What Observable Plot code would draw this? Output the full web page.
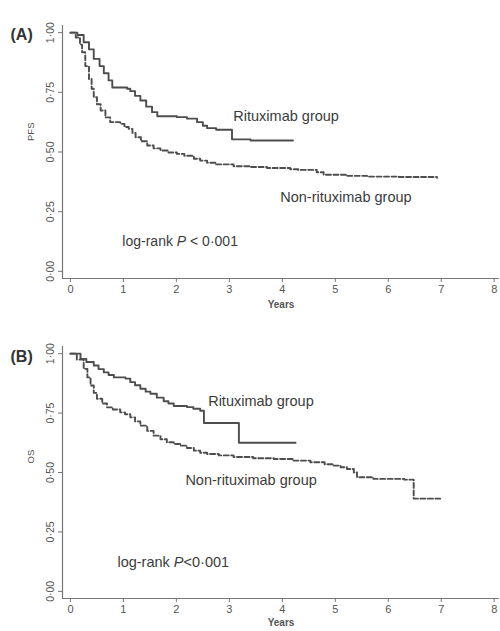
<!DOCTYPE html>
<html><head><meta charset="utf-8">
<script src="https://cdn.jsdelivr.net/npm/d3@7"></script>
<script src="https://cdn.jsdelivr.net/npm/@observablehq/plot@0.6"></script>
<style>
body{margin:0;background:#fff;}
#chart{width:500px;height:631px;position:relative;font-family:"Liberation Sans",Arial,sans-serif;background:#fff;}
#chart svg{display:block;}
</style></head><body><div id="chart"></div>
<script>
// ---- data ----
const years = [0,1,2,3,4,5,6,7,8];
const survTicks = [0,0.25,0.5,0.75,1];
const groupNames = ["Rituximab group","Non-rituximab group"];

// (A) PFS
const pfsRitT = [0,0.13,0.25,0.35,0.44,0.55,0.63,0.72,0.79,1.07,1.13,1.22,1.32,1.43,1.54,1.64,2.01,2.2,2.39,2.5,2.58,2.75,3.05,3.4,4.2];
const pfsRitS = [1.0,0.99,0.96,0.93,0.89,0.86,0.83,0.80,0.77,0.765,0.755,0.735,0.716,0.69,0.667,0.65,0.646,0.64,0.625,0.61,0.60,0.593,0.553,0.548,0.548];
const pfsNonT = [0,0.1,0.18,0.22,0.28,0.35,0.40,0.44,0.50,0.57,0.66,0.75,0.94,1.02,1.10,1.17,1.23,1.33,1.45,1.57,1.70,1.85,2.01,2.15,2.33,2.45,2.58,2.75,3.08,3.4,3.71,4.15,4.3,4.65,4.78,5.2,5.6,6.2,6.92];
const pfsNonS = [1.0,0.98,0.95,0.918,0.86,0.806,0.765,0.73,0.70,0.674,0.645,0.625,0.618,0.605,0.597,0.58,0.562,0.545,0.527,0.515,0.506,0.498,0.492,0.484,0.472,0.464,0.455,0.448,0.44,0.437,0.433,0.428,0.425,0.415,0.405,0.40,0.397,0.395,0.392];

// (B) OS
const osRitT = [0,0.19,0.3,0.44,0.53,0.63,0.72,0.82,1.04,1.13,1.22,1.32,1.42,1.51,1.63,1.76,1.85,1.95,2.2,2.32,2.45,2.52,3.18,4.25];
const osRitS = [1.0,0.978,0.965,0.95,0.935,0.921,0.91,0.90,0.895,0.88,0.867,0.852,0.84,0.831,0.815,0.80,0.79,0.78,0.775,0.768,0.76,0.708,0.625,0.625];
const osNonT = [0,0.12,0.25,0.32,0.38,0.44,0.5,0.6,0.69,0.8,0.94,1.03,1.13,1.22,1.32,1.45,1.57,1.7,1.82,1.95,2.08,2.2,2.33,2.45,2.58,2.8,3.08,3.45,3.84,4.2,4.53,4.8,4.97,5.1,5.22,5.35,5.41,5.72,6.3,6.48,6.98];
const osNonS = [1.0,0.975,0.936,0.90,0.866,0.835,0.81,0.79,0.774,0.765,0.753,0.745,0.732,0.715,0.697,0.675,0.655,0.64,0.627,0.62,0.613,0.603,0.592,0.583,0.578,0.572,0.565,0.56,0.557,0.55,0.543,0.535,0.529,0.522,0.515,0.50,0.48,0.473,0.47,0.39,0.39];

// ---- drawing ----
const ink = "#4d4d4d";
const txt = "#3c3c3c";
const xDomain = [-0.15, 8.1];
const yDomain = [-0.03, 1.03];
const fmt = d => d3.format(".2f")(d).replace(".", "\u00B7");
const rows = (t, s, g) => t.map((d, i) => ({t: d, s: s[i], g}));

function panel(o) {
  const ritRows = rows(o.ritT, o.ritS, groupNames[0]);
  const nonRows = rows(o.nonT, o.nonS, groupNames[1]);
  const svg = Plot.plot({
    width: 500, height: o.height,
    marginTop: o.marginTop, marginBottom: o.marginBottom, marginLeft: 62, marginRight: 1,
    style: {fontFamily: "'Liberation Sans', Arial, sans-serif", background: "white", color: "#555", overflow: "visible"},
    x: {domain: xDomain},
    y: {domain: yDomain},
    marks: [
      Plot.ruleX([xDomain[0]], {stroke: "#777", strokeWidth: 1.2}),
      Plot.ruleY([yDomain[0]], {stroke: "#777", strokeWidth: 1.2}),
      Plot.axisX({ticks: years, tickSize: 4, tickPadding: 3, fontSize: 11, label: null, stroke: "#777"}),
      Plot.axisY({ticks: survTicks, tickSize: 4, tickPadding: 5, tickRotate: -90, tickFormat: fmt, fontSize: 10.5, label: null, stroke: "#777"}),
      Plot.line(nonRows, {x: "t", y: "s", curve: "step-after", stroke: ink, strokeWidth: 1.9, strokeDasharray: "5,2.5"}),
      Plot.line(ritRows, {x: "t", y: "s", curve: "step-after", stroke: ink, strokeWidth: 1.9}),
      Plot.text([groupNames[0]], {x: o.ritLab[0], y: o.ritLab[1], text: d => d, textAnchor: "start", fontSize: 14.5, fill: txt}),
      Plot.text([groupNames[1]], {x: o.nonLab[0], y: o.nonLab[1], text: d => d, textAnchor: "start", fontSize: 14.5, fill: txt}),
      Plot.text([o.logrank], {x: o.lrLab[0], y: o.lrLab[1], text: d => d, textAnchor: "start", fontSize: o.lrSize, fill: txt}),
      Plot.text([o.tag], {frameAnchor: "top-left", dx: -52, dy: o.tagDy, text: d => d, textAnchor: "start", fontSize: 16, fontWeight: "bold", fill: "#333"}),
      Plot.text([o.ylab], {frameAnchor: "left", dx: -32, dy: o.ylabDy, rotate: -90, text: d => d, fontSize: 9.5, fill: "#555"}),
      Plot.text(["Years"], {frameAnchor: "bottom", dx: 0, dy: o.yearsDy, text: d => d, fontSize: 10, fontWeight: "bold", fill: "#555"})
    ]
  });
  // italic P in the log-rank note
  d3.select(svg).selectAll("text").filter(function() { return this.textContent === o.logrank; })
    .each(function() {
      const el = d3.select(this);
      const parts = o.logrank.split("P");
      el.text(null);
      el.append("tspan").text(parts[0]);
      el.append("tspan").attr("font-style", "italic").text("P");
      el.append("tspan").text(parts[1]);
    });
  return svg;
}

const chart = document.getElementById("chart");
chart.appendChild(panel({
  tag: "(A)", ylab: "PFS", height: 318, marginTop: 25, marginBottom: 40,
  ritT: pfsRitT, ritS: pfsRitS, nonT: pfsNonT, nonS: pfsNonS,
  ritLab: [3.075, 0.649], nonLab: [3.96, 0.312], lrLab: [0.98, 0.123],
  logrank: "log-rank P < 0\u00B7001", lrSize: 14,
  tagDy: 3, ylabDy: -11, yearsDy: 29
}));
chart.appendChild(panel({
  tag: "(B)", ylab: "OS", height: 313, marginTop: 28, marginBottom: 33,
  ritT: osRitT, ritS: osRitS, nonT: osNonT, nonS: osNonS,
  ritLab: [2.6, 0.798], nonLab: [2.17, 0.466], lrLab: [0.887, 0.124],
  logrank: "log-rank P<0\u00B7001", lrSize: 14.5,
  tagDy: 4, ylabDy: -9, yearsDy: 27
}));
</script></body></html>
